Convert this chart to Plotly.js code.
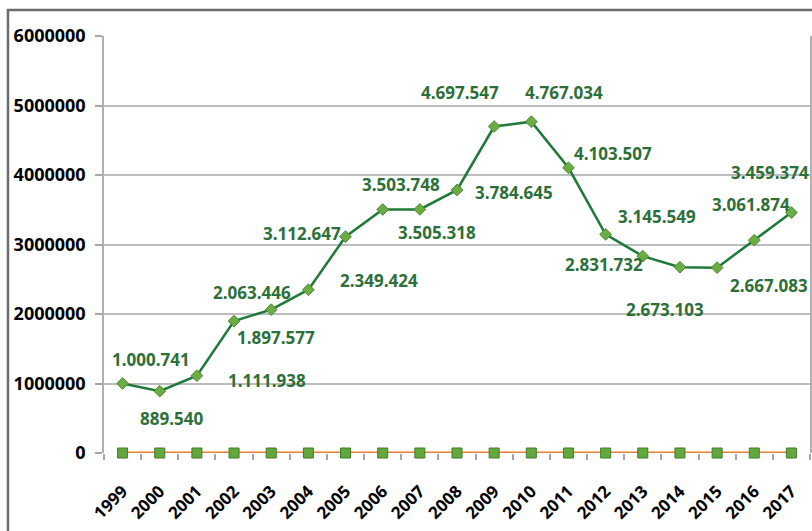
<!DOCTYPE html>
<html>
<head>
<meta charset="utf-8">
<script src="https://cdn.plot.ly/plotly-3.0.1.min.js"></script>
<style>html,body{margin:0;padding:0;background:#fff}#chart{width:812px;height:531px}</style>
</head>
<body>
<div id="chart"></div>
<script>
const years = ["1999","2000","2001","2002","2003","2004","2005","2006","2007","2008","2009","2010","2011","2012","2013","2014","2015","2016","2017"];
const values = [1000741, 889540, 1111938, 1897577, 2063446, 2349424, 3112647, 3503748, 3505318, 3784645, 4697547, 4767034, 4103507, 3145549, 2831732, 2673103, 2667083, 3061874, 3459374];
const zeros = [0,0,0,0,0,0,0,0,0,0,0,0,0,0,0,0,0,0,0];
const yTicks = [0, 1000000, 2000000, 3000000, 4000000, 5000000, 6000000];

// label offsets in pixels (style only)
const labelDx = [28, 12, 70, 42, -19, 71, -44, 18, 17, 57, -34, 33, 45, 51, -39, -15, 52, -3, -21];
const labelDy = [-24, 27, 5, 16, -17, -9, -3, -25, 23, 3, -34, -29, -14, -18, 8, 42, 18, -36, -40];

function fmt(v){ return String(v).replace(/\B(?=(\d{3})+(?!\d))/g, "."); }

const annotations = years.map(function(yr, i){
  return {
    x: i, y: values[i], xref: 'x', yref: 'y',
    text: fmt(values[i]), showarrow: false,
    xanchor: 'center', yanchor: 'middle',
    xshift: labelDx[i], yshift: -labelDy[i],
    font: {family: 'Open Sans', size: 17, color: '#2c6f39', weight: 700}
  };
});

const traces = [
  {x: years, y: zeros, type: 'scatter', mode: 'lines+markers',
   line: {color: '#ED7D31', width: 3},
   marker: {symbol: 'square', size: 10, color: '#63a83c', line: {color: '#3f7d2a', width: 1}},
   cliponaxis: false, hoverinfo: 'skip'},
  {x: years, y: values, type: 'scatter', mode: 'lines+markers',
   line: {color: '#1f7a3a', width: 2.5},
   marker: {symbol: 'diamond', size: 9, color: '#6aad45', line: {color: '#4f8a30', width: 1}},
   cliponaxis: false, hoverinfo: 'skip'}
];

const layout = {
  width: 812, height: 531,
  margin: {l: 104, r: 2, t: 36, b: 78},
  paper_bgcolor: '#fff', plot_bgcolor: '#fff',
  showlegend: false,
  xaxis: {
    type: 'category', showgrid: false,
    showline: false, zeroline: false,
    ticks: 'outside', tickson: 'boundaries', ticklen: 6, tickcolor: '#a6a6a6', tickwidth: 1.5,
    tickangle: -45, ticklabelstandoff: 24,
    tickfont: {family: 'Open Sans', size: 17, color: '#000', weight: 700},
    range: [-0.5, 18.5]
  },
  yaxis: {
    range: [0, 6000000], tickvals: yTicks, ticktext: yTicks.map(String),
    showgrid: true, gridcolor: '#bdbdbd', gridwidth: 1.5,
    showline: true, mirror: true, linecolor: '#b0b0b0', linewidth: 1.5,
    zeroline: false,
    ticks: 'outside', ticklen: 7, tickcolor: '#a6a6a6', tickwidth: 1.5,
    ticklabelstandoff: 6,
    tickfont: {family: 'Open Sans', size: 18, color: '#000', weight: 700}
  },
  annotations: annotations,
  shapes: [{type: 'rect', xref: 'paper', yref: 'paper',
    x0: -0.136, x1: 1.2, y0: -0.5, y1: 1.0624,
    line: {color: '#6b6b6b', width: 2.5}, fillcolor: 'rgba(0,0,0,0)', layer: 'below'}]
};

Plotly.newPlot('chart', traces, layout, {displayModeBar: false});
</script>
</body>
</html>
